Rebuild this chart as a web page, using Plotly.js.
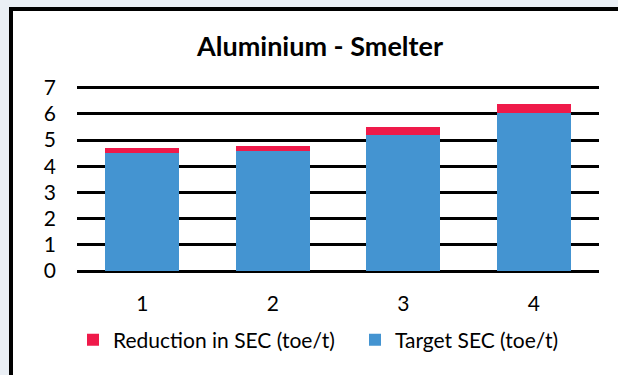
<!DOCTYPE html>
<html>
<head>
<meta charset="utf-8">
<script src="https://cdn.plot.ly/plotly-3.0.1.min.js"></script>
<style>
  html, body { margin: 0; padding: 0; background: #ffffff; }
  #chart { width: 618px; height: 375px; }
</style>
</head>
<body>
<div id="chart"></div>
<script>
// ---- data ----
const categories = ["1", "2", "3", "4"];
const targetSEC = [4.50, 4.57, 5.20, 6.02];
const reductionSEC = [0.21, 0.22, 0.28, 0.37];
const yTicks = [0, 1, 2, 3, 4, 5, 6, 7];
const seriesNames = ["Target SEC (toe/t)", "Reduction in SEC (toe/t)"];
const chartTitle = "Aluminium - Smelter";

// ---- layout helpers ----
const W = 618, H = 375;
const M = { l: 77, r: 19, t: 85, b: 104, autoexpand: false };
const PW = W - M.l - M.r, PH = H - M.t - M.b;
const px = x => (x - M.l) / PW;
const py = y => (H - M.b - y) / PH;

const FONT = "Lato, 'Open Sans', sans-serif";
const BLUE = "#4494D1", RED = "#EF1A4A", BG = "#EAEFF5";

const traces = [
  { type: "bar", x: categories, y: targetSEC, name: seriesNames[0],
    marker: { color: BLUE }, hoverinfo: "y" },
  { type: "bar", x: categories, y: reductionSEC, name: seriesNames[1],
    marker: { color: RED }, hoverinfo: "y" }
];

const layout = {
  width: W, height: H,
  margin: M,
  paper_bgcolor: "#ffffff",
  plot_bgcolor: "rgba(0,0,0,0)",
  barmode: "stack",
  bargap: 0.43,
  font: { family: FONT, color: "#000000", size: 21 },
  title: {
    text: "<b>" + chartTitle + "</b>",
    font: { family: FONT, size: 27, color: "#000000" },
    xref: "container", x: 320 / W, xanchor: "center",
    yref: "container", y: 1 - 47 / H, yanchor: "middle",
    automargin: false
  },
  xaxis: {
    type: "category", automargin: false,
    showgrid: false, zeroline: false, showline: false,
    ticks: "", ticklabelstandoff: 18,
    tickfont: { family: FONT, size: 21, color: "#000" }
  },
  yaxis: {
    range: [0, 7.1], automargin: false,
    tickvals: yTicks,
    showgrid: true, gridcolor: "#000000", gridwidth: 3,
    zeroline: true, zerolinecolor: "#000000", zerolinewidth: 3,
    showline: false, ticks: "", ticklabelstandoff: 20,
    tickfont: { family: FONT, size: 21, color: "#000" },
    fixedrange: true
  },
  showlegend: true,
  legend: {
    orientation: "h", traceorder: "reversed",
    x: px(73), xanchor: "left",
    y: py(340), yanchor: "middle",
    entrywidth: 237, entrywidthmode: "pixels",
    font: { family: FONT, size: 21, color: "#000" },
    bgcolor: "rgba(0,0,0,0)"
  },
  shapes: [
    // light background outside the frame
    { type: "rect", xref: "paper", yref: "paper", layer: "below",
      x0: px(0), x1: px(W), y0: py(7), y1: py(0),
      fillcolor: BG, line: { width: 0 } },
    { type: "rect", xref: "paper", yref: "paper", layer: "below",
      x0: px(0), x1: px(9), y0: py(H), y1: py(7),
      fillcolor: BG, line: { width: 0 } },
    // black frame (top and left)
    { type: "rect", xref: "paper", yref: "paper", layer: "below",
      x0: px(9), x1: px(W), y0: py(11), y1: py(7),
      fillcolor: "#000000", line: { width: 0 } },
    { type: "rect", xref: "paper", yref: "paper", layer: "below",
      x0: px(9), x1: px(13), y0: py(H), y1: py(7),
      fillcolor: "#000000", line: { width: 0 } }
  ]
};

Plotly.newPlot("chart", traces, layout, { displayModeBar: false, staticPlot: true });
</script>
</body>
</html>
